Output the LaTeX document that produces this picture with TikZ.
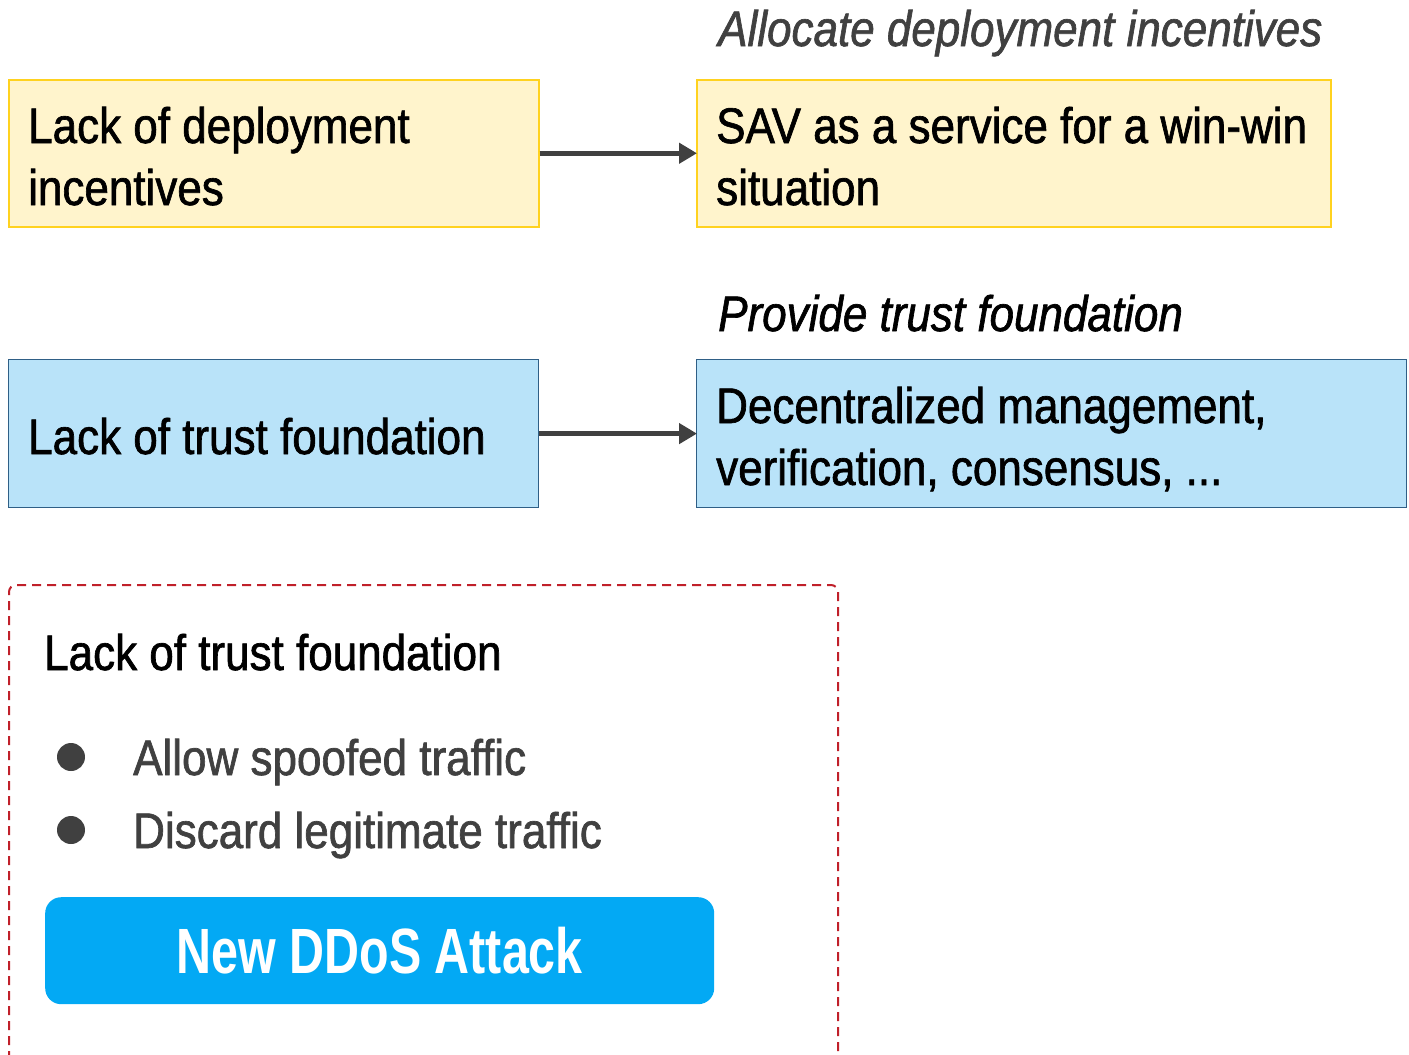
\documentclass[tikz,border=0pt]{standalone}
\usepackage{fontspec}
\usepackage{graphicx}
\setmainfont{Liberation Sans}[FakeStretch=0.88, FakeBold=1.3, BoldFeatures={FakeBold=0}]
\usetikzlibrary{arrows.meta}
\definecolor{yfill}{HTML}{FFF4CC}
\definecolor{ydraw}{HTML}{FFD21F}
\definecolor{bfill}{HTML}{B9E3F9}
\definecolor{bdraw}{HTML}{2F5F86}
\definecolor{arrowgray}{HTML}{404040}
\definecolor{dashred}{HTML}{C0202A}
\definecolor{btnblue}{HTML}{03A9F4}
\definecolor{bodygray}{HTML}{404040}
\tikzset{
  x=1pt, y=-1pt,
  boxtext/.style={font=\fontsize{50}{62}\selectfont, align=left, anchor=base west, inner sep=0pt},
  ybox/.style={draw=ydraw, fill=yfill, line width=1.5pt, anchor=north west, inner sep=0pt},
  bbox/.style={draw=bdraw, fill=bfill, line width=1.2pt, anchor=north west, inner sep=0pt},
  flow/.style={draw=arrowgray, line width=5pt, -{Triangle[length=18pt,width=20pt]}, shorten >=-1pt},
  caption/.style={font=\fontsize{50}{60}\itshape\selectfont, anchor=base west, inner sep=0pt},
  bodyline/.style={font=\fontsize{50}{62}\selectfont, anchor=base west, inner sep=0pt},
  dot/.style={circle, fill=bodygray, minimum size=28pt, inner sep=0pt}
}
\begin{document}
\begin{tikzpicture}
\useasboundingbox (0,0) rectangle (1409,1055);
% top row: incentives
\node[ybox, minimum width=530pt, minimum height=147pt] (y1) at (8,79) {};
\node[ybox, minimum width=634pt, minimum height=147pt] (y2) at (696,79) {};
\node[boxtext] (y1t) at (28,205) {Lack of deployment\\incentives};
\node[boxtext] (y2t) at (716,205) {SAV as a service for a win-win\\situation};
\draw[flow] (y1.east) -- (y2.west);
\node[caption, text=bodygray] (c1) at (718,46) {Allocate deployment incentives};
% second row: trust foundation
\node[bbox, minimum width=530pt, minimum height=148pt] (b1) at (8,359) {};
\node[bbox, minimum width=710pt, minimum height=148pt] (b2) at (696,359) {};
\node[boxtext] (b1t) at (28,454) {Lack of trust foundation};
\node[boxtext] (b2t) at (716,485) {Decentralized management,\\verification, consensus, ...};
\draw[flow] (b1.east) -- (b2.west);
\node[caption, text=black] (c2) at (718,331) {Provide trust foundation};
% dashed frame, open at the bottom
\draw[dashred, line width=2pt, dash pattern=on 9pt off 6pt, rounded corners=7pt]
  (9,1060) -- (9,585) -- (838,585) -- (838,1060);
\node[bodyline] (h) at (44,670) {Lack of trust foundation};
\node[dot] (d1) at (71,757) {};
\node[dot] (d2) at (71,830) {};
\node[bodyline, text=bodygray] (l1) at (133,775) {Allow spoofed traffic};
\node[bodyline, text=bodygray] (l2) at (133,848) {Discard legitimate traffic};
\node[fill=btnblue, rounded corners=16pt, minimum width=669pt, minimum height=107pt, anchor=north west, inner sep=0pt] (btn) at (45,897) {};
\node[font=\fontsize{64}{70}\bfseries\selectfont, text=white, inner sep=0pt] (bt) at (btn.center) {\scalebox{0.86}[1]{New DDoS Attack}};
\end{tikzpicture}
\end{document}
